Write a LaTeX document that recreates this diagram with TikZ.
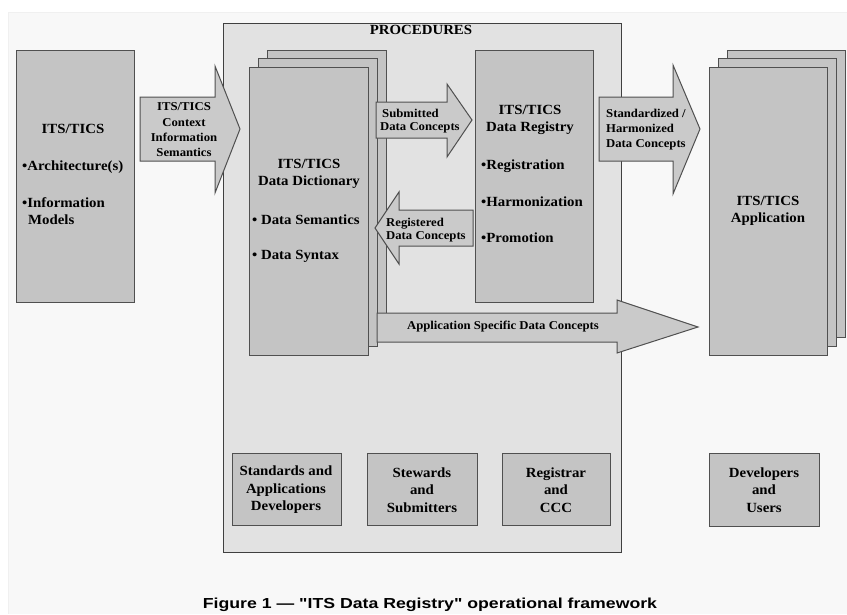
\documentclass[tikz,border=0pt]{standalone}
\usepackage{fontspec}
\setmainfont[FakeStretch=1.06]{Liberation Serif}
\newfontfamily\capfont[FakeStretch=1.22]{Liberation Sans}
\definecolor{boxcol}{RGB}{196,196,196}
\definecolor{proccol}{RGB}{226,226,226}
\definecolor{arrcol}{RGB}{202,202,202}
\definecolor{edgecol}{RGB}{80,80,80}
\definecolor{pagecol}{RGB}{248,248,248}
\begin{document}
\begin{tikzpicture}[x=1pt,y=-1pt,
  box/.style={draw=edgecol, fill=boxcol, line width=1.1pt, inner sep=0pt, anchor=north west},
  procbox/.style={draw=edgecol!80!black, fill=proccol, line width=1.3pt, inner sep=0pt, anchor=north west},
  blockarrow/.style={draw=edgecol, fill=arrcol, line width=1pt, line join=miter},
  bigtxt/.style={font=\fontsize{14}{17}\selectfont\bfseries, inner sep=0pt, align=center},
  bullettxt/.style={font=\fontsize{14}{17}\selectfont\bfseries, inner sep=0pt, anchor=west},
  smalltxt/.style={font=\fontsize{12}{13}\selectfont\bfseries, inner sep=0pt},
  roletxt/.style={font=\fontsize{14}{17.5}\selectfont\bfseries, inner sep=0pt, align=center}
]
\useasboundingbox (0,0) rectangle (847,614);
% faint page frame
\fill[pagecol] (8,12) rectangle (847,614);
\draw[gray!12, line width=0.6pt] (8,614) -- (8,12) -- (847,12);

% PROCEDURES frame
\node[procbox, minimum width=398pt, minimum height=529pt] (proc) at (223,23) {};
\node[font=\fontsize{14}{16}\selectfont\bfseries, inner sep=0pt] (proclbl) at (421,30) {PROCEDURES};

% left box
\node[box, minimum width=118pt, minimum height=252pt] (arch) at (16,50) {};
\node[bigtxt] (archt) at (73,129) {ITS/TICS};
\node[bullettxt] (archa) at (22,167) {•Architecture(s)};
\node[bullettxt, align=left] (archb) at (22,211) {•Information\\\hspace*{6pt}Models};

% context arrow
\draw[blockarrow] (140,97) -- (215,97) -- (215,66) -- (240,129) -- (215,193) -- (215,161) -- (140,161) -- cycle;
\node[smalltxt, align=center, font=\fontsize{12}{15.3}\selectfont\bfseries] (ctxt) at (184,130) {ITS/TICS\\Context\\Information\\Semantics};

% data dictionary stack
\node[box, minimum width=119pt, minimum height=287pt] (dd3) at (267,50) {};
\node[box, minimum width=119pt, minimum height=288pt] (dd2) at (258,58) {};
\node[box, minimum width=119pt, minimum height=288pt] (dd1) at (249,67) {};
\node[bigtxt] (ddt) at (309,174) {ITS/TICS\\Data Dictionary};
\node[bullettxt] (dda) at (252,220) {• Data Semantics};
\node[bullettxt] (ddb) at (252,256) {• Data Syntax};

% registry box
\node[box, minimum width=118pt, minimum height=252pt] (reg) at (475,50) {};
\node[bigtxt] (regt) at (530,120) {ITS/TICS\\Data Registry};
\node[bullettxt] (rega) at (481,166) {•Registration};
\node[bullettxt] (regb) at (481,202) {•Harmonization};
\node[bullettxt] (regc) at (481,238) {•Promotion};

% submitted arrow
\draw[blockarrow] (376,102) -- (447,102) -- (447,84) -- (472,120) -- (447,157) -- (447,138) -- (376,138) -- cycle;
\node[smalltxt, anchor=west, align=left] (subt) at (380,121) {\hspace*{2pt}Submitted\\Data Concepts};

% registered arrow
\draw[blockarrow] (473,210) -- (399,210) -- (399,192) -- (375,228) -- (399,264) -- (399,246) -- (473,246) -- cycle;
\node[smalltxt, anchor=west, align=left] (regdt) at (386,230) {Registered\\Data Concepts};

% application specific arrow
\draw[blockarrow] (377,313) -- (617,313) -- (617,300) -- (698,327) -- (617,353) -- (617,342) -- (377,342) -- cycle;
\node[smalltxt] (appst) at (503,327) {Application Specific Data Concepts};

% standardized arrow
\draw[blockarrow] (599,97) -- (673,97) -- (673,65) -- (700,129) -- (673,194) -- (673,161) -- (599,161) -- cycle;
\node[smalltxt, anchor=west, align=left, font=\fontsize{12}{15}\selectfont\bfseries] (stdt) at (606,130) {Standardized /\\Harmonized\\Data Concepts};

% application stack
\node[box, minimum width=118pt, minimum height=287pt] (ap3) at (727,50) {};
\node[box, minimum width=118pt, minimum height=288pt] (ap2) at (718,58) {};
\node[box, minimum width=118pt, minimum height=288pt] (ap1) at (709,67) {};
\node[bigtxt] (apt) at (768,211) {ITS/TICS\\Application};

% role boxes
\node[box, minimum width=109pt, minimum height=72pt] (r1) at (232,453) {};
\node[roletxt] (r1t) at (286,490) {Standards and\\Applications\\Developers};
\node[box, minimum width=110pt, minimum height=72pt] (r2) at (367,453) {};
\node[roletxt] (r2t) at (422,490) {Stewards\\and\\Submitters};
\node[box, minimum width=108pt, minimum height=72pt] (r3) at (502,453) {};
\node[roletxt] (r3t) at (556,490) {Registrar\\and\\CCC};
\node[box, minimum width=110pt, minimum height=73pt] (r4) at (709,453) {};
\node[roletxt] (r4t) at (764,490) {Developers\\and\\Users};

% caption
\node[font=\capfont\fontsize{14.5}{17}\selectfont\bfseries, inner sep=0pt] (cap) at (430,605) {Figure 1 — "ITS Data Registry" operational framework};
\end{tikzpicture}
\end{document}
